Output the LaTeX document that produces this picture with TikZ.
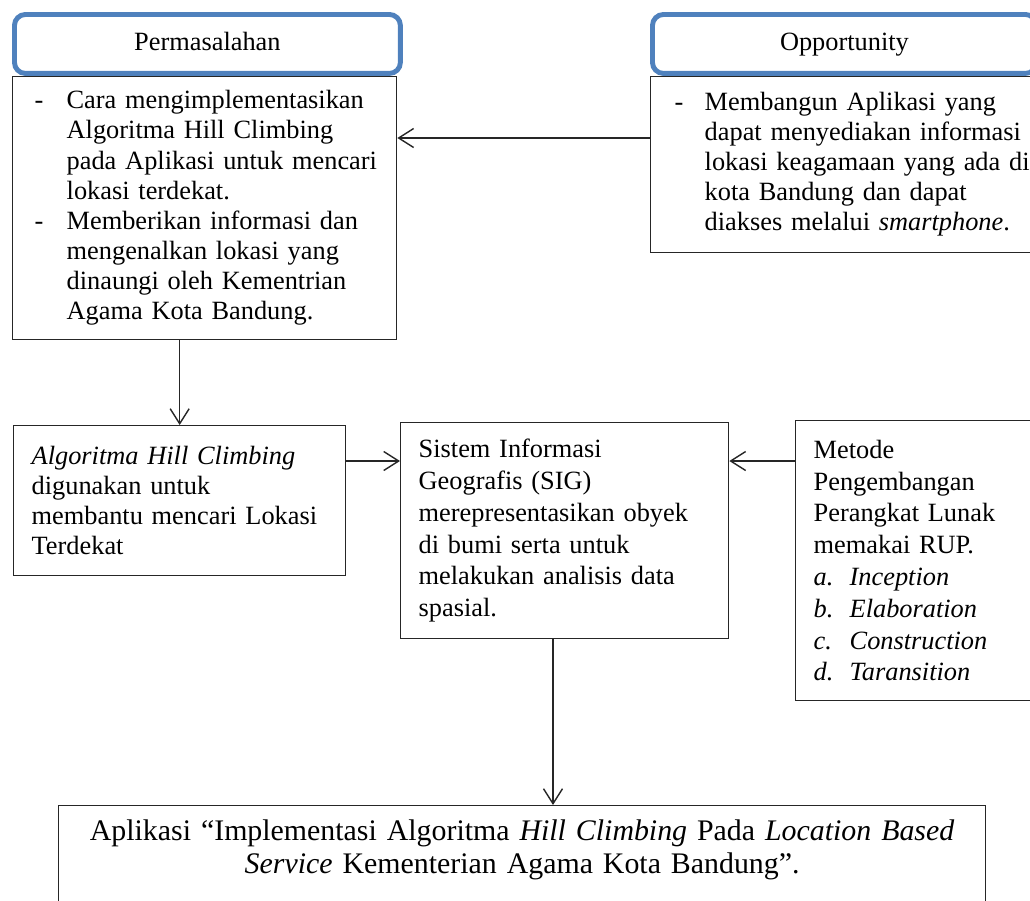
\documentclass[tikz,border=0pt]{standalone}
\usepackage{fontspec}
\setmainfont{Liberation Serif}
\usepackage{xcolor}
\usepackage{tikz}
\usetikzlibrary{arrows.meta, positioning, calc}
\definecolor{birujudul}{HTML}{4F81BD}
\tikzstyle{judul} = [rectangle, rounded corners=0.22cm, draw=birujudul, line width=2.8pt, minimum height=1.18cm, anchor=north west, text centered, text height=10.5pt, text depth=3.5pt, font=\fontsize{15}{17.1}\selectfont]
\tikzstyle{isi} = [rectangle, draw=black!85, line width=0.8pt, anchor=north west, align=left, inner xsep=0.36cm, inner ysep=0pt, font=\fontsize{15}{17.1}\selectfont]
\tikzstyle{panah} = [line width=0.8pt, draw=black!85, -{Straight Barb[length=3mm,width=3.8mm]}]
\newcommand{\tahap}[2]{\makebox[0.72cm][l]{\textit{#1}}\textit{#2}}

\begin{document}
\begin{tikzpicture}[x=0.02cm, y=-0.02cm]
\useasboundingbox (0,0) rectangle (1030,900);

% masalah dan peluang
\node [judul, minimum width=7.72cm] (masalahjudul) at (12,12) {Permasalahan};
\node [isi, text width=6.8cm, inner xsep=0.44cm, minimum height=5.26cm] (masalah) at (masalahjudul.south west) {%
    \begin{tabular}{@{}p{0.64cm}@{}l@{}}
    - & Cara mengimplementasikan\\
      & Algoritma Hill Climbing\\
      & pada Aplikasi untuk mencari\\
      & lokasi terdekat.\\
    - & Memberikan informasi dan\\
      & mengenalkan lokasi yang\\
      & dinaungi oleh Kementrian\\
      & Agama Kota Bandung.
    \end{tabular}};
\node [judul, minimum width=7.68cm] (peluangjudul) at (650,12) {Opportunity};
\node [isi, text width=7cm, inner xsep=0.48cm, minimum height=3.52cm] (peluang) at (peluangjudul.south west) {%
    \begin{tabular}{@{}p{0.6cm}@{}l@{}}
    - & Membangun Aplikasi yang\\
      & dapat menyediakan informasi\\
      & lokasi keagamaan yang ada di\\
      & kota Bandung dan dapat\\
      & diakses melalui \textit{smartphone}.
    \end{tabular}};

% baris tengah
\node [isi, text width=5.92cm, minimum height=3cm] (algoritma) at (13,425) {\textit{Algoritma Hill Climbing}\\digunakan untuk\\membantu mencari Lokasi\\Terdekat};
\node [isi, text width=5.84cm, minimum height=4.32cm, font=\fontsize{15}{18.1}\selectfont] (sig) at (400,422) {Sistem Informasi\\Geografis (SIG)\\merepresentasikan obyek\\di bumi serta untuk\\melakukan analisis data\\spasial.};
\node [isi, text width=5cm, minimum height=5.6cm, font=\fontsize{15}{18.1}\selectfont] (metode) at (795,420) {Metode\\Pengembangan\\Perangkat Lunak\\memakai RUP.\\\tahap{a.}{Inception}\\\tahap{b.}{Elaboration}\\\tahap{c.}{Construction}\\\tahap{d.}{Taransition}};

% hasil
\node [isi, text width=17.94cm, inner xsep=0.3cm, inner ysep=0.28cm, text depth=1.6cm, align=center, font=\fontsize{17}{18.8}\selectfont] (hasil) at (58,805) {Aplikasi “Implementasi Algoritma \textit{Hill Climbing} Pada \textit{Location Based}\\\textit{Service} Kementerian Agama Kota Bandung”.};

\draw [panah] (peluang.west |- 0,138) -- (masalah.east |- 0,138);
\draw [panah] (masalah.south -| algoritma.north) -- (algoritma.north);
\draw [panah] (algoritma.east |- 0,461) -- (sig.west |- 0,461);
\draw [panah] (metode.west |- 0,461) -- (sig.east |- 0,461);
\draw [panah] (sig.south -| 553,0) -- (hasil.north -| 553,0);
\end{tikzpicture}
\end{document}
